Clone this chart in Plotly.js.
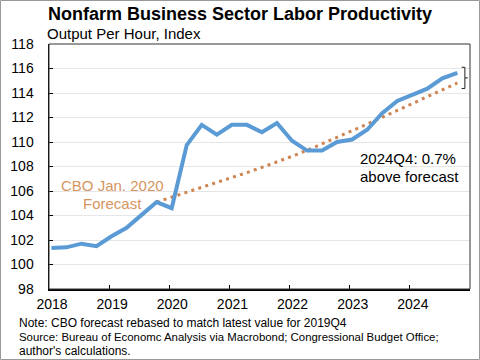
<!DOCTYPE html>
<html>
<head>
<meta charset="utf-8">
<script src="https://cdn.plot.ly/plotly-3.0.1.min.js"></script>
<style>
html,body{margin:0;padding:0;background:#fff;}
#chart{width:480px;height:360px;}
</style>
</head>
<body>
<div id="chart"></div>
<script>
// Quarterly labor productivity (index)
var quarters = ["2018Q1","2018Q2","2018Q3","2018Q4","2019Q1","2019Q2","2019Q3","2019Q4",
  "2020Q1","2020Q2","2020Q3","2020Q4","2021Q1","2021Q2","2021Q3","2021Q4",
  "2022Q1","2022Q2","2022Q3","2022Q4","2023Q1","2023Q2","2023Q3","2023Q4",
  "2024Q1","2024Q2","2024Q3","2024Q4"];
var actual = [101.35,101.4,101.7,101.5,102.3,103.0,104.05,105.1,
  104.6,109.75,111.4,110.6,111.4,111.4,110.8,111.55,
  110.1,109.3,109.3,110.0,110.2,111.0,112.35,113.35,
  113.85,114.35,115.2,115.65];
// CBO Jan. 2020 forecast, rebased at 2019Q4
var forecastQuarters = quarters.slice(7);
var forecast = [105.1,105.49,105.88,106.28,106.68,107.08,107.5,107.93,108.37,108.83,
  109.32,109.84,110.37,110.91,111.46,112.01,112.56,113.12,113.68,114.25,114.82];
var yTicks = [98,100,102,104,106,108,110,112,114,116,118];
var xTicks = [2018,2019,2020,2021,2022,2023,2024];

function qx(s){ var y = parseInt(s.slice(0,4),10), q = parseInt(s.slice(5),10); return y + (q-1)/4 + 0.04; }
var xa = quarters.map(qx);
var xf = forecastQuarters.map(qx);

var FONT = '"Liberation Sans", Arial, sans-serif';
var ORANGE_LINE = '#CE8552';
var ORANGE_TEXT = '#D6955F';

var lastX = xa[xa.length-1];
var topY = actual[actual.length-1] + 0.45;
var botY = forecast[forecast.length-1] - 0.45;
var midY = (topY + botY)/2;
var bx0 = lastX + 0.07, bx1 = lastX + 0.125, bx2 = lastX + 0.175;
var bracketPath = 'M' + bx0 + ',' + topY + ' L' + bx1 + ',' + topY + ' L' + bx1 + ',' + midY +
  ' L' + bx2 + ',' + midY + ' M' + bx1 + ',' + midY + ' L' + bx1 + ',' + botY + ' L' + bx0 + ',' + botY;

var traces = [
  {x: xf, y: forecast, type:'scatter', mode:'lines',
   line:{color:ORANGE_LINE, width:3, dash:'3px,4.3px'}, hoverinfo:'skip'},
  {x: xa, y: actual, type:'scatter', mode:'lines',
   line:{color:'#5B9BD5', width:4}, hoverinfo:'skip'}
];

var layout = {
  width:480, height:360,
  margin:{l:49, r:10, t:44, b:71},
  paper_bgcolor:'#fff', plot_bgcolor:'#fff',
  showlegend:false,
  font:{family:FONT, size:14, color:'#000'},
  title:{text:'<b>Nonfarm Business Sector Labor Productivity</b>',
    font:{family:FONT, size:18, color:'#000'},
    x:0.5, xref:'container', xanchor:'center', y:1-14/360, yref:'container', yanchor:'middle'},
  xaxis:{range:[2018,2025], tickvals:xTicks, ticktext:xTicks.map(String),
    showgrid:false, zeroline:false, showline:true, linecolor:'#000', linewidth:1.5,
    ticks:'inside', ticklen:4, tickcolor:'#000', tickfont:{family:FONT,size:14,color:'#000'},
    ticklabelstandoff:2, ticklabelshift:3},
  yaxis:{range:[98,118], tickvals:yTicks, ticktext:yTicks.map(String),
    showgrid:true, gridcolor:'#e6e6e6', gridwidth:1, zeroline:false,
    showline:true, linecolor:'#000', linewidth:1.5,
    ticks:'inside', ticklen:4, tickcolor:'#000', tickfont:{family:FONT,size:14,color:'#000'},
    ticklabelstandoff:11},
  shapes:[
    {type:'rect', xref:'paper', yref:'paper', x0:0, x1:1, y0:0, y1:1, line:{color:'#333', width:1}, layer:'above'},
    {type:'path', xref:'x', yref:'y', path:bracketPath, line:{color:'#222', width:1}},
    {type:'rect', xref:'paper', yref:'paper', x0:-48.5/421, x1:430.5/421, y0:-70.5/245, y1:1+43.5/245,
     line:{color:'#999', width:1}}
  ],
  annotations:[
    {text:'Output Per Hour, Index', xref:'paper', yref:'paper', x:-4/421, y:(289-34)/245,
     xanchor:'left', yanchor:'middle', showarrow:false, font:{family:FONT,size:15,color:'#000'}},
    {text:'CBO Jan. 2020', xref:'x', yref:'y', x:2019.05, y:98+(289-185)/12.25,
     xanchor:'center', yanchor:'middle', showarrow:false, font:{family:FONT,size:15,color:ORANGE_TEXT}},
    {text:'Forecast', xref:'x', yref:'y', x:2019.06, y:98+(289-203)/12.25,
     xanchor:'center', yanchor:'middle', showarrow:false, font:{family:FONT,size:15,color:ORANGE_TEXT}},
    {text:'2024Q4: 0.7%', xref:'x', yref:'y', x:2023.14, y:98+(289-158.5)/12.25,
     xanchor:'left', yanchor:'middle', showarrow:false, font:{family:FONT,size:15,color:'#000'}},
    {text:'above forecast', xref:'x', yref:'y', x:2023.14, y:98+(289-176)/12.25,
     xanchor:'left', yanchor:'middle', showarrow:false, font:{family:FONT,size:15,color:'#000'}},
    {text:'Note: CBO forecast rebased to match latest value for 2019Q4', xref:'paper', yref:'paper',
     x:-32/421, y:(289-323)/245, xanchor:'left', yanchor:'middle', showarrow:false,
     font:{family:FONT,size:12,color:'#000'}},
    {text:'Source: Bureau of Economc Analysis via Macrobond; Congressional Budget Office;', xref:'paper', yref:'paper',
     x:-32/421, y:(289-337)/245, xanchor:'left', yanchor:'middle', showarrow:false,
     font:{family:FONT,size:11.4,color:'#000'}},
    {text:"author's calculations.", xref:'paper', yref:'paper',
     x:-32/421, y:(289-351)/245, xanchor:'left', yanchor:'middle', showarrow:false,
     font:{family:FONT,size:12,color:'#000'}}
  ]
};

Plotly.newPlot('chart', traces, layout, {staticPlot:true, displayModeBar:false});
</script>
</body>
</html>
